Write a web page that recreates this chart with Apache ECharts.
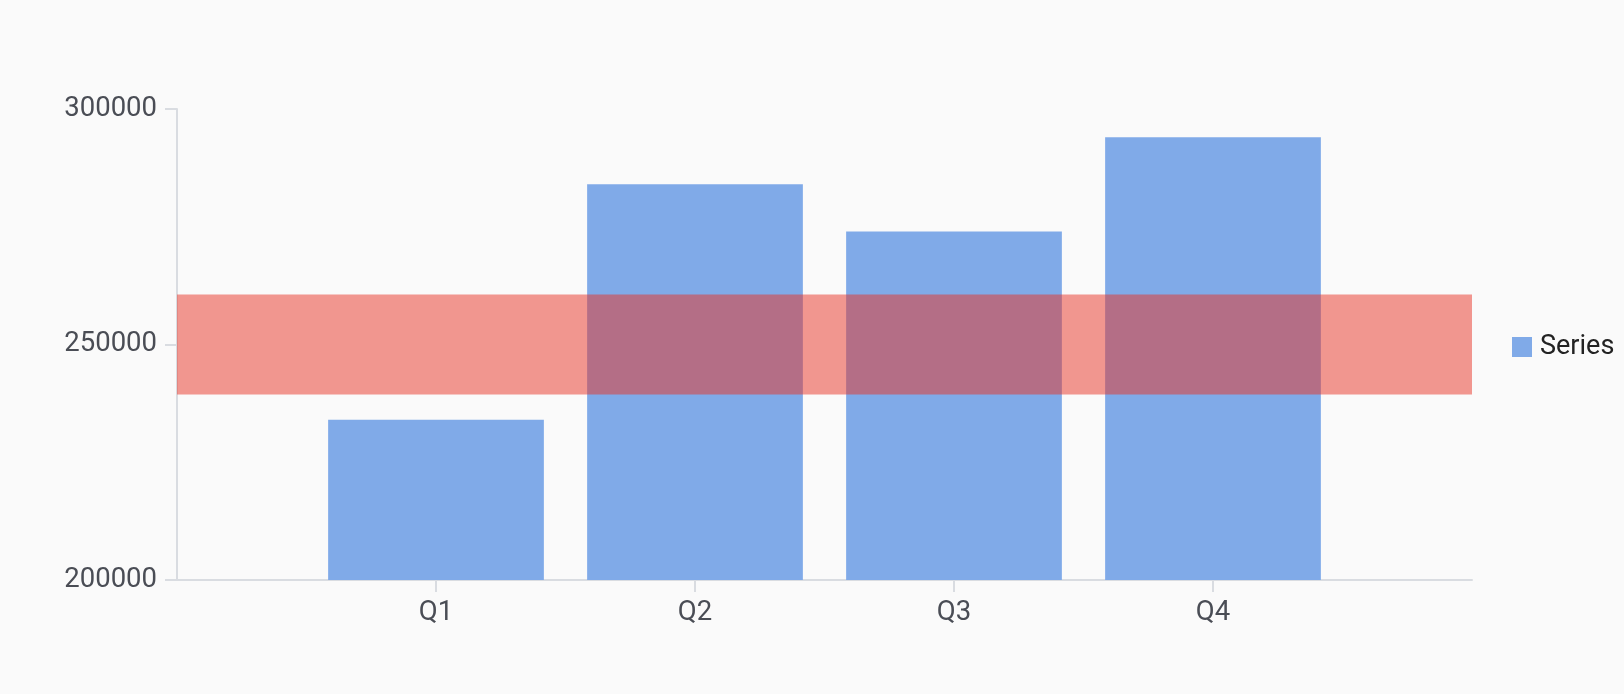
<!DOCTYPE html>
<html>
<head>
<meta charset="utf-8">
<script src="https://cdn.jsdelivr.net/npm/echarts@6/dist/echarts.min.js"></script>
<style>
html,body{margin:0;padding:0;background:#fafafa;}
#chart{width:1624px;height:694px;}
</style>
</head>
<body>
<div id="chart"></div>
<script>
const categories = ['', 'Q1', 'Q2', 'Q3', 'Q4', ''];
const seriesName = 'Series';
const seriesValues = [null, 234000, 284000, 274000, 294000, null];
const bandRange = [239400, 260600];
const yTicks = { min: 200000, max: 300000, interval: 50000 };

const chart = echarts.init(document.getElementById('chart'), null, { renderer: 'canvas' });
const labelFont = { fontFamily: 'Roboto', fontSize: 27.5, color: '#4a4d55' };
chart.setOption({
  backgroundColor: '#fafafa',
  animation: false,
  grid: { left: 177, right: 152, top: 109, bottom: 114, containLabel: false },
  legend: {
    data: [seriesName],
    orient: 'vertical',
    left: 1507,
    top: 'middle',
    itemWidth: 20,
    itemHeight: 20,
    itemGap: 8,
    icon: 'rect',
    textStyle: { fontFamily: 'Roboto', fontSize: 27, color: '#222222', padding: [0, 0, 0, 3] }
  },
  xAxis: {
    type: 'category',
    data: categories,
    boundaryGap: false,
    axisLine: { lineStyle: { color: '#d9dce1', width: 2 } },
    axisTick: {
      length: 12,
      lineStyle: { color: '#d9dce1', width: 2 },
      interval: function (i, v) { return v !== ''; }
    },
    axisLabel: Object.assign({ margin: 19, interval: 0 }, labelFont),
    splitLine: { show: false }
  },
  yAxis: {
    type: 'value',
    min: yTicks.min,
    max: yTicks.max,
    interval: yTicks.interval,
    axisLine: { show: true, lineStyle: { color: '#d9dce1', width: 2 } },
    axisTick: { show: true, length: 12, lineStyle: { color: '#d9dce1', width: 2 } },
    axisLabel: Object.assign({ margin: 20, formatter: function (v) { return String(v); } }, labelFont),
    splitLine: { show: false }
  },
  series: [
    {
      name: seriesName,
      type: 'bar',
      data: seriesValues,
      barWidth: '83.3%',
      itemStyle: { color: '#80aae8' },
      z: 2
    },
    {
      name: 'band',
      type: 'line',
      data: [],
      z: 5,
      silent: true,
      markArea: {
        silent: true,
        z: 10,
        itemStyle: { color: 'rgba(232,50,36,0.5)' },
        data: [[{ yAxis: bandRange[0] }, { yAxis: bandRange[1] }]]
      }
    }
  ]
});
</script>
</body>
</html>
